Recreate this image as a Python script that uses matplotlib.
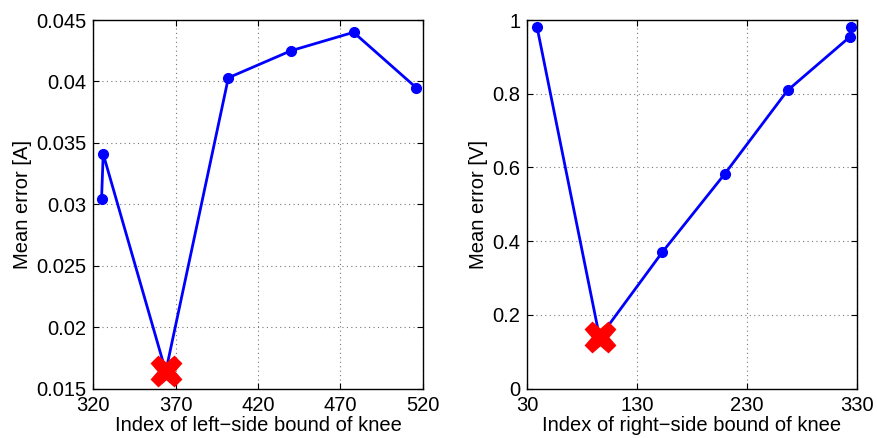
import numpy as np
import matplotlib
matplotlib.use("Agg")
import matplotlib.pyplot as plt

# left-side bound of knee
left_idx = [325, 326, 364, 402, 440, 478, 516]
left_err = [0.0304, 0.0341, 0.0164, 0.0403, 0.0425, 0.0440, 0.0395]
left_best = 2

# right-side bound of knee
right_idx = [39, 96, 153, 210, 267, 324, 325]
right_err = [0.982, 0.139, 0.370, 0.583, 0.809, 0.955, 0.982]
right_best = 1

left_xticks = [320, 370, 420, 470, 520]
left_yticks = [0.015, 0.02, 0.025, 0.03, 0.035, 0.04, 0.045]
left_ylabels = ["0.015", "0.02", "0.025", "0.03", "0.035", "0.04", "0.045"]
right_xticks = [30, 130, 230, 330]
right_yticks = [0, 0.2, 0.4, 0.6, 0.8, 1]
right_ylabels = ["0", "0.2", "0.4", "0.6", "0.8", "1"]

plt.rcParams['font.family'] = ['Liberation Sans', 'DejaVu Sans']
plt.rcParams['font.size'] = 14.5

fig = plt.figure(figsize=(8.77, 4.38), dpi=100)
ax1 = fig.add_axes([0.1064, 0.1126, 0.3756, 0.8417])
ax2 = fig.add_axes([0.601, 0.1126, 0.3759, 0.8417])


def draw(ax, x, y, best, xticks, yticks, ylabels, xlabel, ylabel):
    ax.plot(x, y, '-o', color='blue', lw=2, ms=7, zorder=3)
    ax.plot(x[best], y[best], 'X', color='red', ms=22, mec='red', zorder=4)
    ax.set_xlim(xticks[0], xticks[-1])
    ax.set_ylim(yticks[0], yticks[-1])
    ax.set_xticks(xticks)
    ax.set_yticks(yticks)
    ax.set_yticklabels(ylabels)
    ax.grid(True, ls=(0, (1, 3)), color='#777777', lw=0.8)
    ax.tick_params(direction='in', top=True, right=True, length=4)
    ax.tick_params(axis='x', pad=5)
    ax.tick_params(axis='y', pad=5)
    ax.set_xlabel(xlabel, labelpad=1)
    ax.set_ylabel(ylabel, labelpad=3)
    for s in ax.spines.values():
        s.set_linewidth(1.0)


draw(ax1, left_idx, left_err, left_best, left_xticks, left_yticks, left_ylabels,
     "Index of left\u2212side bound of knee", "Mean error [A]")
draw(ax2, right_idx, right_err, right_best, right_xticks, right_yticks, right_ylabels,
     "Index of right\u2212side bound of knee", "Mean error [V]")

fig.savefig("out.png", dpi=100)
